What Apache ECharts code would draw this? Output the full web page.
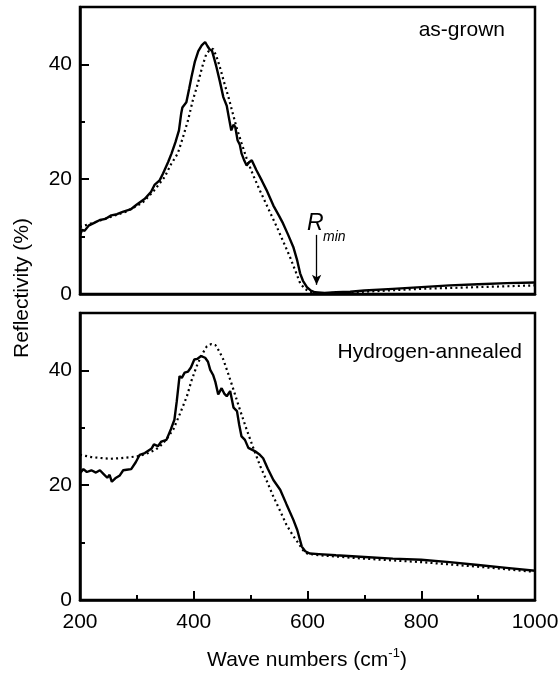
<!DOCTYPE html>
<html>
<head>
<meta charset="utf-8">
<script src="https://cdn.jsdelivr.net/npm/echarts@6/dist/echarts.min.js"></script>
<style>
  html, body { margin: 0; background: #fff; }
  #chart { width: 559px; height: 677px; }
</style>
</head>
<body>
<div id="chart"></div>
<script>
// as-grown: measured spectrum (solid)
const grownWave = [200, 204, 208, 215, 225, 235, 245, 255, 265, 275, 290, 300, 314, 325, 331, 340, 346, 355, 361, 368, 374, 378, 380, 387, 392, 396, 402, 408, 414, 420, 424, 428, 432, 436, 440, 446, 452, 458, 462, 466, 470, 473, 477, 481, 484, 489, 493, 497, 502, 510, 520, 528, 540, 550, 557, 566, 575, 582, 587, 592, 599, 606, 613, 630, 650, 675, 700, 750, 800, 850, 900, 950, 1000];
const grownMeas = [10.3, 11.2, 11.0, 11.9, 12.4, 12.9, 13.1, 13.7, 13.9, 14.3, 14.8, 15.6, 16.6, 17.8, 19.0, 19.8, 21.0, 23.0, 24.5, 26.5, 28.5, 31.5, 32.5, 33.4, 35.8, 37.8, 40.5, 42.3, 43.3, 43.9, 43.2, 42.6, 42.4, 41.0, 39.5, 37.0, 34.3, 32.8, 30.6, 28.5, 29.5, 29.1, 26.8, 26.0, 24.5, 23.2, 22.4, 22.9, 23.3, 21.6, 19.7, 18.1, 15.4, 13.6, 12.3, 10.3, 8.2, 5.8, 3.6, 2.3, 1.2, 0.6, 0.3, 0.2, 0.3, 0.4, 0.6, 0.9, 1.2, 1.5, 1.7, 1.9, 2.0];

// as-grown: fit (dotted)
const grownFitWave = [200, 220, 250, 280, 310, 330, 349, 360, 372, 381, 390, 398, 407, 415, 422, 428, 434, 440, 446, 453, 461, 468, 475, 484, 493, 504, 516, 530, 546, 558, 569, 578, 587, 595, 604, 620, 650, 700, 800, 900, 1000];
const grownFit = [11.7, 12.3, 13.3, 14.3, 15.9, 18.0, 20.4, 22.6, 24.5, 27.3, 30.3, 33.6, 36.6, 39.6, 41.8, 42.5, 42.7, 41.4, 39.5, 37.0, 34.3, 31.7, 29.1, 26.3, 23.6, 20.8, 18.1, 15.1, 11.7, 9.0, 6.5, 4.2, 1.9, 0.9, 0.4, 0.1, 0.2, 0.4, 0.9, 1.2, 1.5];

// hydrogen-annealed: measured spectrum (solid)
const annealWave = [200, 206, 212, 220, 228, 235, 242, 248, 252, 256, 262, 270, 276, 282, 290, 298, 305, 314, 320, 326, 330, 337, 343, 352, 360, 366, 370, 375, 379, 384, 390, 395, 401, 406, 413, 420, 425, 429, 434, 438, 443, 449, 454, 458, 464, 470, 476, 480, 484, 490, 496, 508, 515, 522, 530, 540, 552, 563, 575, 582, 590, 596, 604, 620, 650, 700, 750, 800, 850, 900, 950, 1000];
const annealMeas = [22.1, 22.8, 22.3, 22.6, 22.2, 22.6, 21.9, 21.3, 21.8, 20.6, 21.2, 21.7, 22.6, 22.7, 22.8, 24.0, 25.3, 25.6, 26.0, 26.4, 27.1, 26.8, 27.6, 27.9, 29.8, 31.4, 34.5, 39.0, 38.7, 39.6, 39.8, 40.5, 41.9, 42.0, 42.5, 42.2, 41.5, 40.1, 39.2, 38.0, 35.8, 36.9, 35.9, 35.5, 36.4, 33.5, 32.9, 30.5, 28.5, 27.9, 26.5, 25.9, 25.4, 24.7, 22.9, 20.9, 19.2, 16.7, 14.0, 12.2, 9.3, 8.5, 8.1, 8.0, 7.8, 7.5, 7.2, 7.0, 6.6, 6.1, 5.6, 5.1];

// hydrogen-annealed: fit (dotted)
const annealFitWave = [200, 220, 240, 253, 270, 290, 305, 320, 333, 341, 352, 364, 376, 388, 396, 405, 414, 423, 431, 438, 445, 452, 460, 470, 481, 493, 505, 517, 529, 540, 552, 563, 574, 584, 592, 599, 620, 700, 800, 900, 1000];
const annealFit = [25.3, 24.9, 24.7, 24.6, 24.7, 24.9, 25.1, 25.6, 26.2, 26.8, 28.0, 29.7, 32.5, 35.5, 38.2, 40.7, 42.7, 44.2, 44.6, 44.4, 43.3, 41.9, 39.6, 36.6, 33.2, 29.7, 26.4, 23.3, 20.6, 18.0, 15.5, 13.1, 11.3, 9.9, 8.7, 8.1, 7.8, 7.2, 6.6, 5.8, 4.9];

// axes
const waveRange = [200, 1000];
const reflRange = [0, 50];
const waveStep = 200;
const reflStep = 20;
const reflMinorStep = 10;

// R_min marker (wave number, arrow top, arrow tip)
const rMinWave = 616;
const rMinArrow = [10.3, 1.6];

const FONT = '"Liberation Sans", Arial, Helvetica, sans-serif';
const zip = (xs, ys) => xs.map((x, i) => [x, ys[i]]);

const chart = echarts.init(document.getElementById('chart'));

const grids = [
  { left: 80, top: 7, width: 455, height: 287 },
  { left: 80, top: 313, width: 455, height: 287 }
].map(g => ({
  ...g,
  show: true,
  containLabel: false,
  outerBoundsMode: 'none',
  borderColor: '#000',
  borderWidth: 2.5,
  backgroundColor: 'transparent'
}));

const xAxisBase = (gridIndex, showLabels) => ({
  type: 'value',
  gridIndex,
  min: waveRange[0],
  max: waveRange[1],
  interval: waveStep,
  axisLine: { show: true, lineStyle: { color: '#000', width: 2.5 } },
  axisTick: { show: showLabels, inside: true, length: 9, lineStyle: { color: '#000', width: 2 } },
  minorTick: { show: showLabels, splitNumber: 2, length: 5, lineStyle: { color: '#000', width: 2 } },
  axisLabel: {
    show: showLabels, color: '#000', fontSize: 21, fontFamily: FONT, margin: 12,
    formatter: v => String(v)
  },
  splitLine: { show: false }
});

const yMajor = gridIndex => ({
  type: 'value',
  gridIndex,
  min: reflRange[0],
  max: reflRange[1],
  interval: reflStep,
  axisLine: { show: true, lineStyle: { color: '#000', width: 2.5 } },
  axisTick: { inside: true, length: 9, lineStyle: { color: '#000', width: 2 } },
  axisLabel: { color: '#000', fontSize: 21, fontFamily: FONT, margin: 8, showMaxLabel: false },
  splitLine: { show: false }
});

const yMinor = gridIndex => ({
  type: 'value',
  gridIndex,
  position: 'left',
  min: reflRange[0],
  max: reflRange[1],
  interval: reflMinorStep,
  axisLine: { show: false },
  axisTick: { inside: true, length: 5, lineStyle: { color: '#000', width: 2 } },
  axisLabel: { show: false },
  splitLine: { show: false }
});

const solid = { color: '#000', width: 2.4 };
const dotted = { color: '#000', width: 2.2, type: [2, 3.2], cap: 'butt' };

const lineSeries = (xi, yi, data, style, z, extra) => ({
  type: 'line',
  xAxisIndex: xi,
  yAxisIndex: yi,
  data,
  showSymbol: false,
  symbol: 'none',
  lineStyle: style,
  z,
  animation: false,
  ...extra
});

chart.setOption({
  animation: false,
  grid: grids,
  xAxis: [xAxisBase(0, false), xAxisBase(1, true)],
  yAxis: [yMajor(0), yMinor(0), yMajor(1), yMinor(1)],
  series: [
    lineSeries(0, 0, zip(grownFitWave, grownFit), dotted, 2),
    lineSeries(0, 0, zip(grownWave, grownMeas), solid, 3, {
      markLine: {
        silent: true,
        animation: false,
        symbol: ['none', 'arrow'],
        symbolSize: [7, 10],
        lineStyle: { color: '#000', width: 1.3, type: 'solid' },
        label: { show: false },
        data: [[{ coord: [rMinWave, rMinArrow[0]] }, { coord: [rMinWave, rMinArrow[1]] }]]
      }
    }),
    lineSeries(1, 2, zip(annealFitWave, annealFit), dotted, 2),
    lineSeries(1, 2, zip(annealWave, annealMeas), solid, 3)
  ],
  graphic: [
    {
      type: 'text', x: 505, y: 30,
      style: { text: 'as-grown', font: '21px ' + FONT, fill: '#000', align: 'right', verticalAlign: 'middle' }
    },
    {
      type: 'text', x: 522, y: 352,
      style: { text: 'Hydrogen-annealed', font: '21px ' + FONT, fill: '#000', align: 'right', verticalAlign: 'middle' }
    },
    {
      type: 'text', x: 307, y: 224,
      style: { text: 'R', font: 'italic 23px ' + FONT, fill: '#000', align: 'left', verticalAlign: 'middle' }
    },
    {
      type: 'text', x: 323, y: 237,
      style: { text: 'min', font: 'italic 14px ' + FONT, fill: '#000', align: 'left', verticalAlign: 'middle' }
    },
    {
      type: 'text', x: 22, y: 288, rotation: Math.PI / 2,
      style: { text: 'Reflectivity (%)', font: '21px ' + FONT, fill: '#000', align: 'center', verticalAlign: 'middle' }
    },
    {
      type: 'text', x: 307, y: 660,
      style: {
        text: '{m|Wave numbers (cm}{s|-1}{m|)}',
        align: 'center',
        verticalAlign: 'middle',
        rich: {
          m: { fontSize: 21, fontFamily: FONT, fill: '#000', lineHeight: 26 },
          s: { fontSize: 13, fontFamily: FONT, fill: '#000', verticalAlign: 'top', lineHeight: 13 }
        }
      }
    }
  ]
});
</script>
</body>
</html>
